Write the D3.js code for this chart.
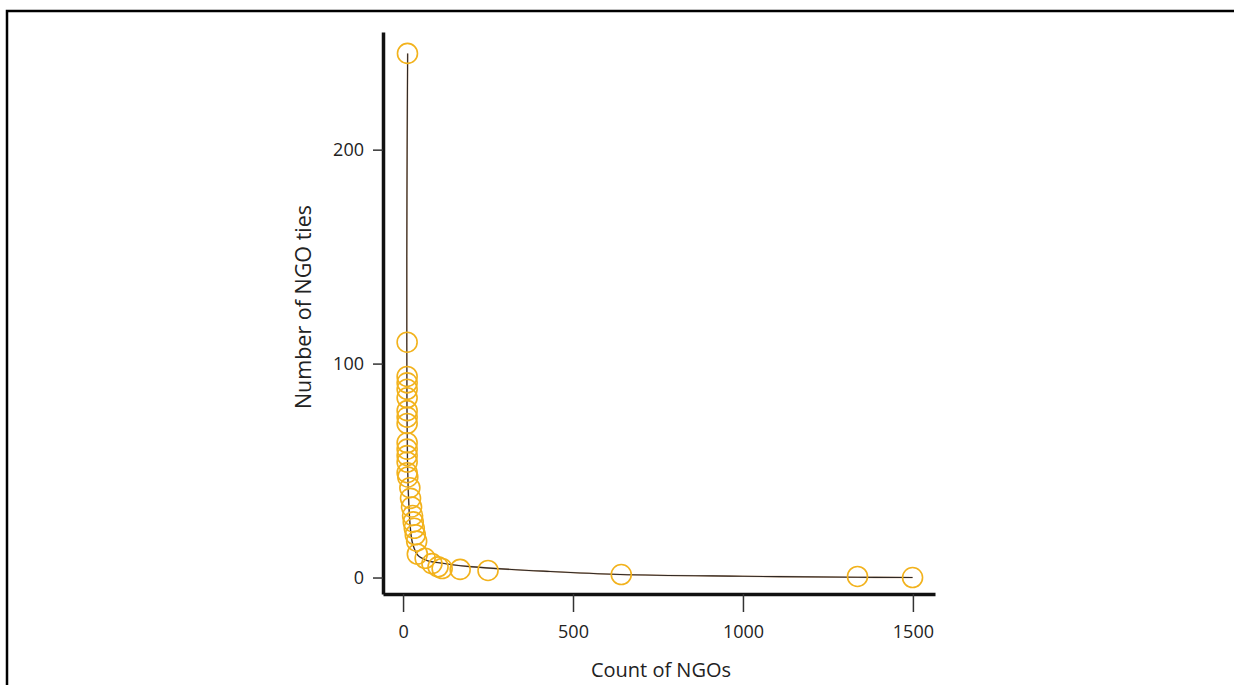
<!DOCTYPE html>
<html>
<head>
<meta charset="utf-8">
<script src="https://cdn.jsdelivr.net/npm/d3@7"></script>
<style>
  html, body { margin: 0; padding: 0; background: #fff; }
  svg { display: block; }
  text { font-family: "Open Sans", "DejaVu Sans", sans-serif; fill: #222; }
</style>
</head>
<body>
<svg id="chart" width="1234" height="685"></svg>
<script>
// Data
const countNGOs = [13, 12, 12, 12, 12, 12, 12, 12, 12, 12, 12, 12, 12, 12, 14, 20, 22, 25, 28, 30, 33, 36, 40, 42, 65, 85, 103, 115, 168, 250, 642, 1337, 1499];
const ngoTies   = [245, 110, 94, 91, 88, 84, 78, 75, 72, 63, 60, 57, 54, 49, 47, 42, 37, 33, 29, 26, 23, 20, 17, 11, 9, 6.5, 5, 4.2, 3.8, 3.3, 1.4, 0.5, 0];

// Fitted curve
const fitX = [13.5, 12, 11, 11, 11.5, 13, 16, 21, 28, 44, 70, 100, 197, 433, 639, 1000, 1337, 1499];
const fitY = [245, 200, 150, 110, 80, 55, 38, 24, 16, 10.3, 8, 7, 5.1, 2.8, 1.4, 0.6, 0.1, 0];

const xTicks = [0, 500, 1000, 1500];
const yTicks = [0, 100, 200];
const xTitle = "Count of NGOs";
const yTitle = "Number of NGO ties";

const svg = d3.select("#chart");

// Outer frame (top and left edges)
svg.append("path")
  .attr("d", "M7,685 V11 H1234")
  .attr("fill", "none")
  .attr("stroke", "#000")
  .attr("stroke-width", 2.5);

const x = d3.scaleLinear().domain([-59, 1565]).range([383, 935]);
const y = d3.scaleLinear().domain([-7.7, 255]).range([594, 32]);

// X axis
const gx = svg.append("g")
  .attr("transform", "translate(0,594)")
  .call(d3.axisBottom(x).tickValues(xTicks).tickSize(18).tickSizeOuter(0).tickPadding(13).tickFormat(d3.format("d")));
gx.select(".domain").attr("stroke", "#111").attr("stroke-width", 3.5);
gx.selectAll(".tick line").attr("stroke", "#333").attr("stroke-width", 1.5);
gx.selectAll(".tick text").attr("font-size", 18).attr("fill", "#222")
  .style("font-family", "'Open Sans', sans-serif");

// Y axis
const gy = svg.append("g")
  .attr("transform", "translate(383,0)")
  .call(d3.axisLeft(y).tickValues(yTicks).tickSize(10).tickSizeOuter(0).tickPadding(9).tickFormat(d3.format("d")));
gy.select(".domain").attr("stroke", "#111").attr("stroke-width", 3.5);
gy.selectAll(".tick line").attr("stroke", "#333").attr("stroke-width", 1.5);
gy.selectAll(".tick text").attr("font-size", 18).attr("fill", "#222")
  .style("font-family", "'Open Sans', sans-serif");

// Fitted line
const fitData = fitX.map((v, i) => ({x: v, y: fitY[i]}));
const line = d3.line().x(d => x(d.x)).y(d => y(d.y)).curve(d3.curveCatmullRom.alpha(0.5));
svg.append("path")
  .datum(fitData)
  .attr("d", line)
  .attr("fill", "none")
  .attr("stroke", "#c9a88a")
  .attr("stroke-width", 1.6);
svg.append("path")
  .datum(fitData)
  .attr("d", line)
  .attr("fill", "none")
  .attr("stroke", "#1e1a18")
  .attr("stroke-width", 1.1)
  .attr("stroke-opacity", 0.9);

// Points
const pts = countNGOs.map((v, i) => ({x: v, y: ngoTies[i]}));
svg.append("g").selectAll("circle")
  .data(pts)
  .join("circle")
  .attr("cx", d => x(d.x))
  .attr("cy", d => y(d.y))
  .attr("r", 10)
  .attr("fill", "none")
  .attr("stroke", "#f2b21c")
  .attr("stroke-width", 1.6);

// Titles
svg.append("text")
  .attr("x", 661)
  .attr("y", 677)
  .attr("text-anchor", "middle")
  .attr("font-size", 20)
  .text(xTitle);

svg.append("text")
  .attr("transform", "translate(311,307) rotate(-90)")
  .attr("text-anchor", "middle")
  .attr("font-size", 21.5)
  .text(yTitle);
</script>
</body>
</html>
